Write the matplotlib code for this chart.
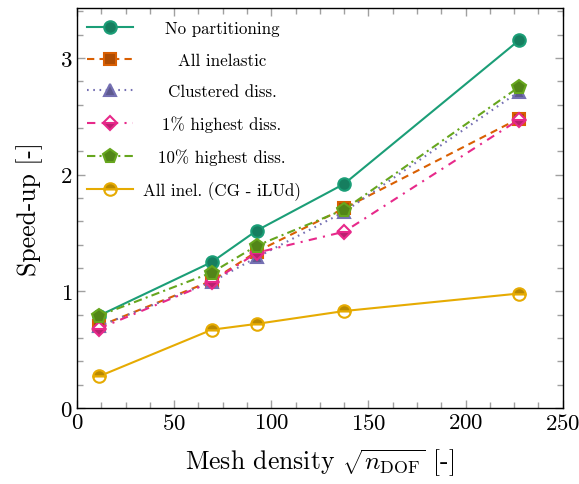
import numpy as np
import matplotlib
matplotlib.use("Agg")
import matplotlib.pyplot as plt
from matplotlib.colors import to_rgb
from matplotlib.ticker import MultipleLocator

plt.rcParams['font.family'] = 'serif'
plt.rcParams['font.serif'] = ['cmr10']
plt.rcParams['mathtext.fontset'] = 'cm'
plt.rcParams['axes.formatter.use_mathtext'] = True

# sqrt(n_DOF) for the five meshes
mesh = [11.3, 69.4, 92.5, 137.5, 227.4]

labels = ['No partitioning', 'All inelastic', 'Clustered diss.',
          '1% highest diss.', '10% highest diss.', 'All inel. (CG - iLUd)']

no_part = [0.79, 1.25, 1.52, 1.92, 3.15]
all_inel = [0.70, 1.09, 1.34, 1.71, 2.48]
clustered = [0.70, 1.08, 1.29, 1.68, 2.71]
one_pct = [0.68, 1.08, 1.33, 1.51, 2.47]
ten_pct = [0.79, 1.16, 1.39, 1.70, 2.75]
cg_ilud = [0.27, 0.67, 0.72, 0.83, 0.98]

series = [no_part, all_inel, clustered, one_pct, ten_pct, cg_ilud]

colors = ['#1b9e77', '#d95f02', '#7570b3', '#e7298a', '#66a61e', '#e6ab02']
markers = ['o', 's', '^', 'D', 'p', 'o']
styles = ['-', (0, (3.5, 2.5)), (0, (0.8, 2.2)), (0, (4, 3, 1, 3)),
          (0, (4, 2, 1, 2)), '-']
fills = ['full', 'full', 'full', 'bottom', 'full', 'top']
sizes = [9, 9, 9, 7, 10, 9]


def darker(c, f=0.8):
    return tuple(v * f for v in to_rgb(c))


fig = plt.figure(figsize=(5.79, 4.85), dpi=100)
ax = fig.add_axes([0.133, 0.157, 0.839, 0.825])

for y, lab, c, m, ls, fs, ms in zip(series, labels, colors, markers,
                                    styles, fills, sizes):
    ax.plot(mesh, y, color=c, linestyle=ls, lw=1.5, marker=m, markersize=ms,
            markerfacecolor=darker(c), markeredgecolor=c, markeredgewidth=1.5,
            fillstyle=fs, markerfacecoloralt='white', label=lab)

ax.set_xlim(0, 250)
ax.set_ylim(0, 3.43)
ax.xaxis.set_major_locator(MultipleLocator(50))
ax.xaxis.set_minor_locator(MultipleLocator(12.5))
ax.yaxis.set_major_locator(MultipleLocator(1))
ax.yaxis.set_minor_locator(MultipleLocator(0.2))
ax.tick_params(which='both', direction='in', top=True, right=True,
               color='#a0a0a0', labelsize=16.5)
ax.tick_params(which='major', length=6, width=1)
ax.tick_params(which='minor', length=4, width=1)
for s in ax.spines.values():
    s.set_linewidth(1.0)

ax.set_xlabel(r'Mesh density $\sqrt{n_\mathrm{DOF}}$ [-]', fontsize=18.5,
              labelpad=10)
ax.set_ylabel('Speed-up [-]', fontsize=18.5, labelpad=12)

leg = ax.legend(loc='upper left', bbox_to_anchor=(0.0, 0.993), frameon=False,
                fontsize=12.2, handlelength=2.7, handletextpad=0.6,
                labelspacing=0.96, borderpad=0.6, borderaxespad=0.0)

# center the entry texts in their column
fig.canvas.draw()
r = fig.canvas.get_renderer()
widths = [t.get_window_extent(r).width for t in leg.get_texts()]
wmax = max(widths)
for t, w in zip(leg.get_texts(), widths):
    t.set_position(((wmax - w) / 2, 0))

fig.savefig('out.png', dpi=100)
